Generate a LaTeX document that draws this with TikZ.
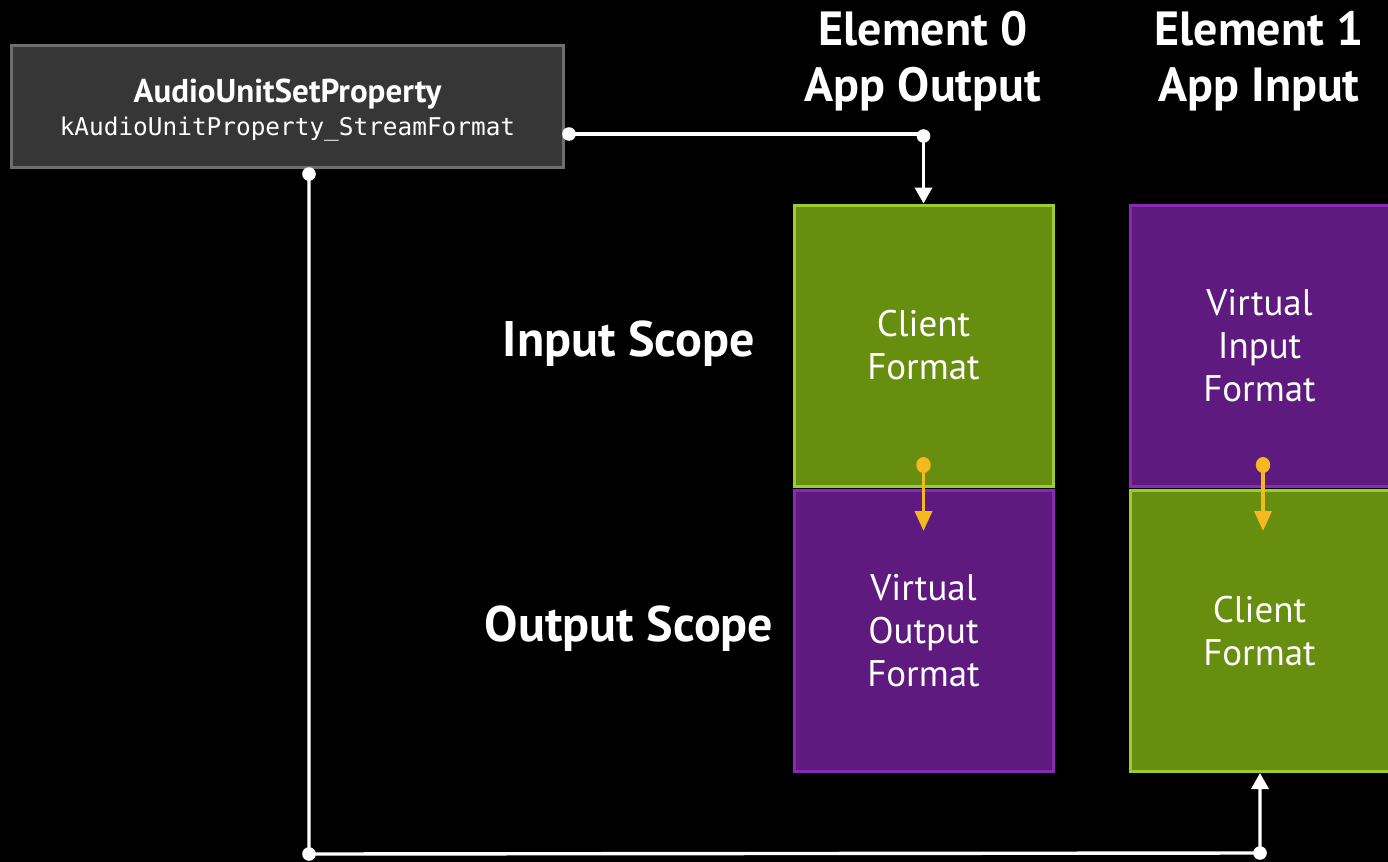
\documentclass[tikz,border=0pt]{standalone}
\usepackage{fontspec}
\setmainfont{PT Sans}
\setmonofont{DejaVu Sans Mono}
\usetikzlibrary{arrows.meta}

\definecolor{callfill}{RGB}{54,54,54}
\definecolor{calledge}{RGB}{110,110,110}
\definecolor{clientfill}{RGB}{104,142,16}
\definecolor{clientedge}{RGB}{154,205,50}
\definecolor{virtfill}{RGB}{95,26,128}
\definecolor{virtedge}{RGB}{137,42,178}
\definecolor{flow}{RGB}{245,185,30}

\tikzset{
  fmtbox/.style={minimum width=259pt*0.5, minimum height=281pt*0.5, line width=1.5pt,
    inner sep=0pt, align=center, text=white,
    font=\fontsize{18.5pt}{21.5pt}\selectfont},
  clientbox/.style={fmtbox, fill=clientfill, draw=clientedge},
  virtbox/.style={fmtbox, fill=virtfill, draw=virtedge},
  heading/.style={text=white, align=center, font=\bfseries\fontsize{24pt}{28pt}\selectfont},
  scopelabel/.style={text=white, font=\bfseries\fontsize{25pt}{30pt}\selectfont},
  wire/.style={white, line width=1.7pt},
  orangewire/.style={flow, line width=1.8pt},
  whitetip/.style={-{Triangle[width=8.5pt,length=8pt]}},
  orangetip/.style={-{Triangle[width=8.5pt,length=10pt]}},
}

\begin{document}
\begin{tikzpicture}[x=0.5pt, y=-0.5pt]
  \clip (0,0) rectangle (1388,862);
  \fill[black] (0,0) rectangle (1388,862);

  % the property call
  \node[fill=callfill, draw=calledge, line width=1.5pt, minimum width=552pt*0.5,
        minimum height=122pt*0.5, inner sep=0pt, align=center, text=white]
    (sp) at (287.5,106)
    {\rule{0pt}{16pt}{\bfseries\fontsize{16.5pt}{20pt}\selectfont AudioUnitSetProperty}\\[3pt]
     {\ttfamily\fontsize{12.2pt}{15pt}\selectfont kAudioUnitProperty\_StreamFormat}};

  % column headings
  \node[heading] (e0) at (923,61) {Element 0\\App Output};
  \node[heading] (e1) at (1259,61) {Element 1\\App Input};

  % scope labels
  \node[scopelabel] (insc) at (629,344) {Input Scope};
  \node[scopelabel] (outsc) at (629,629) {Output Scope};

  % element 0 formats
  \node[clientbox] (g0) at (923.5,345.5) {Client\\Format};
  \node[virtbox] (p0) at (923.5,631) {Virtual\\Output\\Format};

  % element 1 formats
  \node[virtbox] (p1) at (1259.5,345.5) {Virtual\\Input\\Format};
  \node[clientbox] (g1) at (1259.5,631) {Client\\Format};

  % wire ends and corners
  \coordinate (s1) at (569,134);
  \coordinate (k1) at (923.5,136);
  \coordinate (s2) at (309,174);
  \coordinate (k2) at (310,854);
  \coordinate (k3) at (1260,853);
  \coordinate (o0) at (923.5,465);
  \coordinate (o1) at (1263,465);

  % property set on element 0, input scope
  \draw[wire, whitetip] (s1) -- (s1 -| k1) -- (g0.north);
  \fill[white] (s1) circle (3.4pt) (k1) circle (3.4pt);

  % property set on element 1, output scope
  \draw[wire, whitetip] (s2) -- (s2 |- k2) -- (k3) -- (k3 |- g1.south);
  \fill[white] (s2) circle (3.4pt) (s2 |- k2) circle (3.4pt) (k3) circle (3.4pt);

  % format conversion inside each element
  \draw[orangewire, orangetip] (o0) -- (o0 |- 0,531);
  \draw[orangewire, orangetip] (o1) -- (o1 |- 0,531);
  \fill[flow] (o0) ellipse (3.6pt and 4pt) (o1) ellipse (3.6pt and 4pt);
\end{tikzpicture}
\end{document}
